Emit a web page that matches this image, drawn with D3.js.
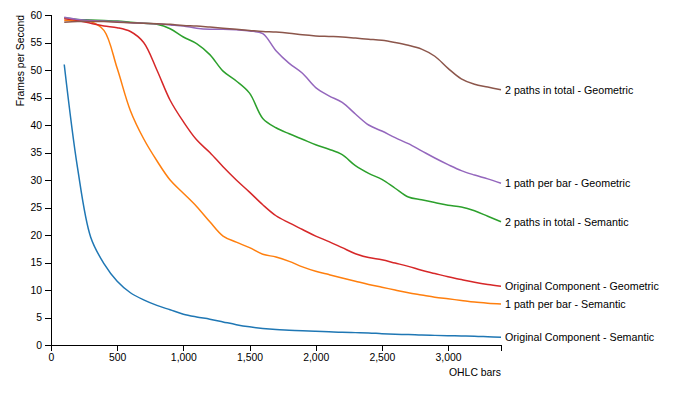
<!DOCTYPE html>
<html>
<head>
<meta charset="utf-8">
<script src="https://cdnjs.cloudflare.com/ajax/libs/d3/7.8.5/d3.min.js"></script>
<style>
  body { margin: 0; background: #fff; }
  svg text { font-family: Arial, "Liberation Sans", sans-serif; font-size: 10.4px; }
  .series text { font-size: 10.7px; }
  .line { fill: none; stroke-width: 1.5px; }
</style>
</head>
<body>
<svg id="chart" width="687" height="399"></svg>
<script>
// bar counts (x) shared by every series
const bars = d3.range(100, 3500, 100)

const seriesNames = [
  "Original Component - Semantic",
  "1 path per bar - Semantic",
  "2 paths in total - Semantic",
  "Original Component - Geometric",
  "1 path per bar - Geometric",
  "2 paths in total - Geometric"
]

const originalSemantic = [51, 32.3, 19.6, 14.8, 11.6, 9.5, 8.2, 7.2, 6.4, 5.6, 5.1, 4.7, 4.2, 3.7, 3.3, 3.0, 2.8,
  2.7, 2.6, 2.5, 2.4, 2.3, 2.25, 2.2, 2.05, 1.95, 1.9, 1.8, 1.75, 1.7, 1.65, 1.6, 1.5, 1.4]
const pathPerBarSemantic = [59, 59, 58.8, 57.2, 50.3, 42.6, 37.5, 33.5, 30, 27.6, 25.2, 22.4, 19.8, 18.7, 17.7,
  16.5, 16, 15.2, 14.2, 13.4, 12.8, 12.2, 11.6, 11, 10.5, 10, 9.5, 9.1, 8.7, 8.4, 8.1, 7.8, 7.6, 7.45]
const twoPathsSemantic = [59.5, 59.2, 59.1, 59, 58.9, 58.7, 58.5, 58.3, 57.5, 56, 54.8, 52.8, 49.8, 48, 45.8,
  41.2, 39.5, 38.4, 37.4, 36.4, 35.6, 34.6, 32.6, 31.2, 30.1, 28.5, 26.9, 26.4, 25.9, 25.4, 25.1, 24.4, 23.4, 22.4]
const originalGeometric = [59.3, 59, 58.5, 58, 57.7, 57, 55, 50, 44.5, 40.6, 37.3, 35, 32.4, 30, 27.8, 25.5,
  23.5, 22.2, 21, 19.8, 18.8, 17.7, 16.6, 15.9, 15.5, 14.9, 14.3, 13.6, 13, 12.4, 11.9, 11.4, 11.0, 10.7]
const pathPerBarGeometric = [59.6, 59.2, 59, 58.9, 58.8, 58.6, 58.5, 58.4, 58.2, 58, 57.6, 57.4, 57.4, 57.3,
  57.1, 56.6, 53.5, 51.2, 49.4, 46.8, 45.3, 44.1, 42, 40, 38.9, 37.7, 36.6, 35.3, 34, 32.8, 31.7, 30.9, 30.2, 29.4]
const twoPathsGeometric = [58.7, 58.8, 58.8, 58.8, 58.7, 58.6, 58.5, 58.4, 58.3, 58.1, 58, 57.8, 57.6, 57.4,
  57.2, 57, 56.9, 56.7, 56.4, 56.2, 56.1, 56, 55.8, 55.6, 55.4, 55, 54.5, 53.8, 52.5, 50.3, 48.4, 47.4, 46.9, 46.4]

const seriesValues = [originalSemantic, pathPerBarSemantic, twoPathsSemantic,
  originalGeometric, pathPerBarGeometric, twoPathsGeometric]

const colors = ["#1f77b4", "#ff7f0e", "#2ca02c", "#d62728", "#9467bd", "#8c564b"]

const svg = d3.select("#chart")
const margin = { top: 15, right: 186, bottom: 54, left: 51 }
const innerWidth = +svg.attr("width") - margin.left - margin.right
const innerHeight = +svg.attr("height") - margin.top - margin.bottom

const xScale = d3.scaleLinear().domain([0, 3400]).range([0, innerWidth])
const yScale = d3.scaleLinear().domain([0, 60]).range([innerHeight, 0])

const g = svg.append("g")
  .attr("transform", `translate(${margin.left}, ${margin.top})`)

const xAxisG = g.append("g")
  .attr("transform", `translate(0, ${innerHeight})`)
  .call(d3.axisBottom(xScale).tickValues(d3.range(0, 3001, 500)).tickFormat(d3.format(",")))

xAxisG.append("text")
  .attr("x", innerWidth)
  .attr("y", 31)
  .attr("fill", "#000")
  .style("text-anchor", "end")
  .text("OHLC bars")

const yAxisG = g.append("g")
  .call(d3.axisLeft(yScale).tickValues(d3.range(0, 61, 5)))

yAxisG.append("text")
  .attr("transform", "rotate(-90)")
  .attr("x", 0)
  .attr("y", -27.5)
  .attr("fill", "#000")
  .style("text-anchor", "end")
  .text("Frames per Second")

g.selectAll(".domain, .tick line").attr("shape-rendering", "crispEdges")

const series = seriesNames.map((name, i) => ({
  name: name,
  color: colors[i],
  values: bars.map((b, j) => ({ bars: b, fps: seriesValues[i][j] }))
}))

const line = d3.line()
  .curve(d3.curveCatmullRom.alpha(0.5))
  .x(d => xScale(d.bars))
  .y(d => yScale(d.fps))

const seriesG = g.selectAll(".series")
  .data(series)
  .enter()
  .append("g")
  .attr("class", "series")

seriesG.append("path")
  .attr("class", "line")
  .attr("d", d => line(d.values))
  .attr("stroke", d => d.color)

seriesG.append("text")
  .datum(d => ({ name: d.name, value: d.values[d.values.length - 1] }))
  .attr("transform", d => `translate(${xScale(d.value.bars)}, ${yScale(d.value.fps)})`)
  .attr("x", 4)
  .attr("dy", ".35em")
  .attr("fill", "#000")
  .text(d => d.name)
</script>
</body>
</html>
